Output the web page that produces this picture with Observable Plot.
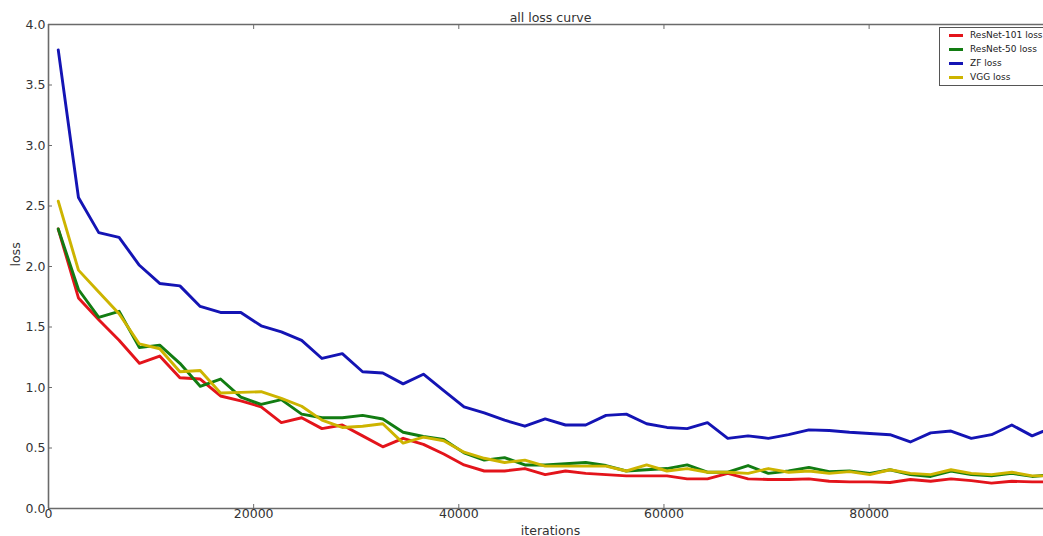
<!DOCTYPE html>
<html><head><meta charset="utf-8">
<script src="https://cdn.jsdelivr.net/npm/d3@7"></script>
<script src="https://cdn.jsdelivr.net/npm/@observablehq/plot@0.6"></script>
<style>
html,body{margin:0;padding:0;background:#fff;overflow:hidden;}
#wrap{position:relative;width:1043px;height:536px;overflow:hidden;}
#legend{position:absolute;left:939px;top:27px;width:130px;height:59px;border:1px solid #555;background:#fff;font-family:"DejaVu Sans";font-size:9px;color:#222;box-sizing:border-box;}
.row{position:absolute;left:0;height:14px;display:flex;align-items:center;white-space:nowrap;}
.sw{display:inline-block;width:14px;height:3px;margin-left:9px;margin-right:7px;}
</style></head><body><div id="wrap"><div id="legend"></div></div>
<script>
const iterations = [950,2920,4900,6880,8860,10840,12810,14790,16770,18750,20730,22700,24680,26660,28640,30620,32590,34570,36550,38530,40510,42480,44460,46440,48420,50400,52370,54350,56330,58310,60290,62260,64240,66220,68200,70180,72150,74130,76110,78090,80070,82040,84020,86000,87980,89960,91930,93910,95890,97870];
const resnet101Loss = [2.31,1.74,1.56,1.39,1.20,1.26,1.08,1.07,0.93,0.89,0.84,0.71,0.75,0.66,0.69,0.60,0.51,0.58,0.53,0.45,0.36,0.31,0.31,0.33,0.28,0.31,0.29,0.28,0.27,0.27,0.27,0.245,0.245,0.29,0.245,0.24,0.24,0.245,0.225,0.22,0.22,0.215,0.24,0.225,0.245,0.23,0.21,0.225,0.22,0.22];
const resnet50Loss = [2.31,1.81,1.58,1.63,1.33,1.35,1.20,1.01,1.07,0.92,0.86,0.90,0.78,0.75,0.75,0.77,0.74,0.63,0.595,0.57,0.46,0.40,0.42,0.36,0.36,0.37,0.38,0.355,0.31,0.32,0.33,0.36,0.30,0.30,0.355,0.29,0.31,0.34,0.305,0.31,0.29,0.32,0.28,0.265,0.31,0.28,0.27,0.29,0.265,0.28];
const zfLoss = [3.79,2.57,2.28,2.24,2.01,1.86,1.84,1.67,1.62,1.62,1.51,1.46,1.39,1.24,1.28,1.13,1.12,1.03,1.11,0.975,0.84,0.79,0.73,0.68,0.74,0.69,0.69,0.77,0.78,0.70,0.67,0.66,0.71,0.58,0.60,0.58,0.61,0.65,0.645,0.63,0.62,0.61,0.55,0.625,0.64,0.58,0.61,0.69,0.60,0.67];
const vggLoss = [2.54,1.97,1.79,1.61,1.36,1.32,1.13,1.14,0.955,0.96,0.965,0.91,0.845,0.73,0.67,0.68,0.70,0.54,0.59,0.56,0.465,0.415,0.38,0.40,0.35,0.35,0.35,0.35,0.31,0.36,0.31,0.33,0.30,0.30,0.29,0.33,0.30,0.31,0.29,0.305,0.28,0.32,0.29,0.28,0.32,0.29,0.28,0.30,0.27,0.27];
const seriesNames = ["ResNet-101 loss","ResNet-50 loss","ZF loss","VGG loss"];
const seriesColors = ["#e3141b","#127c12","#1414b4","#cdb400"];
const yTicks = [0,0.5,1,1.5,2,2.5,3,3.5,4];
const xTicks = [0,20000,40000,60000,80000];
const titleText = "all loss curve";
const xLabel = "iterations";
const yLabel = "loss";

const seriesValues = [resnet101Loss, resnet50Loss, zfLoss, vggLoss];
const rows = [];
seriesNames.forEach((name, s) => {
  iterations.forEach((it, i) => rows.push({iteration: it, loss: seriesValues[s][i], series: name}));
});

const axisColor = "#6a6a6a";
const textColor = "#333";

const chart = Plot.plot({
  width: 1043, height: 536,
  marginLeft: 48, marginRight: 0, marginTop: 24, marginBottom: 28,
  style: {fontFamily: "DejaVu Sans", fontSize: "12.5px", color: textColor, background: "#fff"},
  x: {domain: [0, 97000]},
  y: {domain: [0, 4]},
  color: {domain: seriesNames, range: seriesColors},
  marks: [
    Plot.line(rows, {x: "iteration", y: "loss", z: "series", stroke: "series", strokeWidth: 2.9, clip: true, strokeLinejoin: "round"}),
    Plot.ruleY([0], {stroke: axisColor, strokeWidth: 1.6}),
    Plot.ruleY([4], {stroke: axisColor, strokeWidth: 1.6}),
    Plot.ruleX([0], {stroke: axisColor, strokeWidth: 1.6}),
    Plot.axisY({ticks: yTicks, tickFormat: d3.format(".1f"), tickSize: -4, tickPadding: 7, label: null, stroke: axisColor, fill: textColor}),
    Plot.axisX({ticks: xTicks, tickFormat: d3.format("d"), tickSize: -4, tickPadding: 5, label: null, stroke: axisColor, fill: textColor}),
    Plot.axisX({anchor: "top", ticks: xTicks, tickFormat: () => "", tickSize: -4, label: null, stroke: axisColor}),
    Plot.text([titleText], {text: d => d, frameAnchor: "top", lineAnchor: "bottom", dy: -3, dx: 4.5, fill: textColor, fontSize: 12.5}),
    Plot.text([xLabel], {text: d => d, frameAnchor: "bottom", lineAnchor: "bottom", dy: 26, dx: 4.5, fill: textColor, fontSize: 12.5}),
    Plot.text([yLabel], {text: d => d, frameAnchor: "left", rotate: -90, dx: -33, fill: textColor, fontSize: 12.5})
  ]
});
document.getElementById("wrap").prepend(chart);

const legend = document.getElementById("legend");
seriesNames.forEach((name, i) => {
  const row = document.createElement("div");
  row.className = "row";
  row.style.top = (i * 14) + "px";
  const sw = document.createElement("span");
  sw.className = "sw";
  sw.style.background = seriesColors[i];
  const label = document.createElement("span");
  label.textContent = name;
  row.appendChild(sw);
  row.appendChild(label);
  legend.appendChild(row);
});
</script>
</body></html>
